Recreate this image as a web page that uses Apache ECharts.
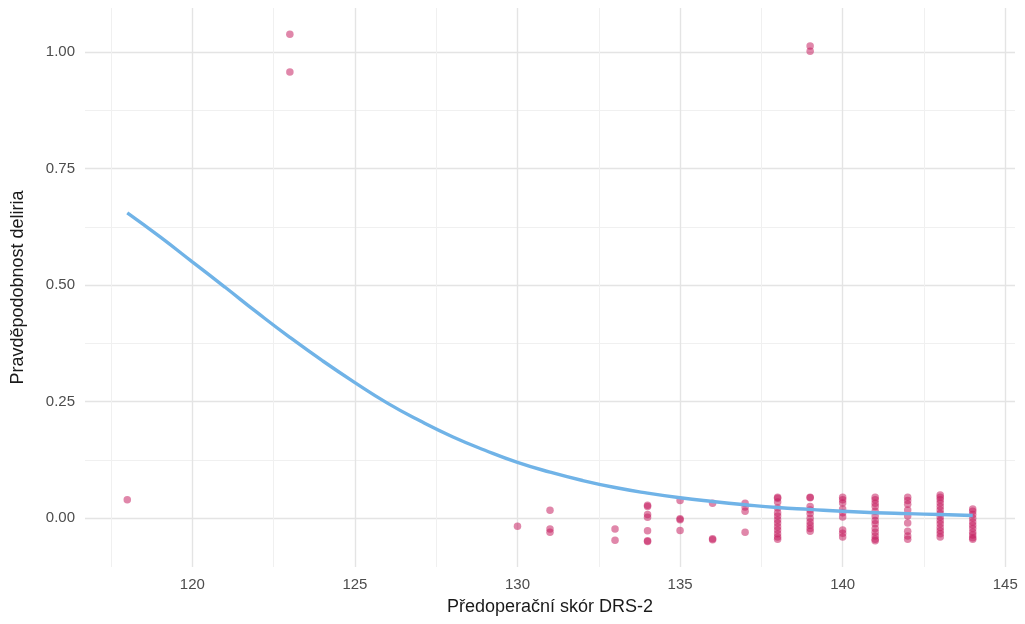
<!DOCTYPE html>
<html>
<head>
<meta charset="utf-8">
<script src="https://cdn.jsdelivr.net/npm/echarts@6/dist/echarts.min.js"></script>
<style>
  html, body { margin: 0; padding: 0; background: #fff; }
  #chart { width: 1025px; height: 624px; }
</style>
</head>
<body>
<div id="chart"></div>
<script>
/* Observed patients: DRS-2 score and delirium (0/1, vertically jittered) */
const pointX = [
  118, 123, 123, 130, 131, 131, 131, 133, 133,
  134, 134, 134, 134, 134, 134, 134,
  135, 135, 135, 135, 136, 136, 136, 137, 137, 137, 137,
  138, 138, 138, 138, 138, 138, 138, 138, 138, 138, 138, 138, 138,
  139, 139, 139, 139, 139, 139, 139, 139, 139, 139, 139, 139,
  140, 140, 140, 140, 140, 140, 140, 140, 140,
  141, 141, 141, 141, 141, 141, 141, 141, 141, 141, 141, 141, 141,
  142, 142, 142, 142, 142, 142, 142, 142, 142,
  143, 143, 143, 143, 143, 143, 143, 143, 143, 143, 143, 143, 143, 143,
  144, 144, 144, 144, 144, 144, 144, 144, 144, 144, 144
]
const pointY = [
  0.040, 1.038, 0.957, -0.017, 0.017, -0.023, -0.030, -0.023, -0.047,
  0.028, 0.025, 0.008, 0.002, -0.027, -0.048, -0.050,
  0.038, -0.001, -0.003, -0.026, 0.032, -0.044, -0.046, 0.032, 0.024, 0.015, -0.030,
  0.045, 0.043, 0.035, 0.022, 0.012, 0.005, -0.003, -0.010, -0.018, -0.025, -0.033, -0.040, -0.045,
  1.013, 1.002, 0.045, 0.044, 0.025, 0.018, 0.010, 0.000, -0.008, -0.015, -0.022, -0.028,
  0.045, 0.040, 0.033, 0.020, 0.012, 0.003, -0.025, -0.032, -0.040,
  0.045, 0.040, 0.032, 0.025, 0.015, 0.005, -0.005, -0.012, -0.022, -0.030, -0.038, -0.045, -0.048,
  0.045, 0.038, 0.030, 0.018, 0.005, -0.010, -0.028, -0.038, -0.045,
  0.050, 0.045, 0.040, 0.033, 0.025, 0.018, 0.010, 0.003, -0.005, -0.012, -0.020, -0.027, -0.033, -0.040,
  0.020, 0.015, 0.008, 0.000, -0.008, -0.015, -0.022, -0.030, -0.036, -0.042, -0.045
]

/* Fitted probability curve at each score */
const curveX = [118, 119, 120, 121, 122, 123, 124, 125, 126, 127, 128, 129, 130, 131,
  132, 133, 134, 135, 136, 137, 138, 139, 140, 141, 142, 143, 144]
const curveY = [0.655, 0.604, 0.550, 0.496, 0.441, 0.388, 0.338, 0.291, 0.247, 0.209, 0.175,
  0.146, 0.120, 0.099, 0.081, 0.066, 0.054, 0.044, 0.036, 0.029, 0.023, 0.019, 0.015,
  0.012, 0.010, 0.008, 0.006]

/* Tick / grid positions */
const xMajor = [120, 125, 130, 135, 140, 145]
const xMinor = [117.5, 122.5, 127.5, 132.5, 137.5, 142.5]
const yMajor = [0, 0.25, 0.5, 0.75, 1]
const yMinor = [0.125, 0.375, 0.625, 0.875]

const FONT = 'Liberation Sans, Arial, Helvetica, sans-serif'
const X_RANGE = [116.7, 145.3]
const Y_RANGE = [-0.1045, 1.0945]

const chart = echarts.init(document.getElementById('chart'))

/* helper: a value axis that only draws grid lines at the given values */
function gridAxis (vals, range, color, width, pos) {
  return {
    type: 'value', min: range[0], max: range[1], position: pos,
    axisLine: { show: false },
    axisTick: { show: false, customValues: vals },
    axisLabel: { show: false, customValues: vals },
    splitLine: { show: true, lineStyle: { color: color, width: width } }
  }
}

chart.setOption({
  animation: false,
  grid: { left: 85, right: 10, top: 8, bottom: 57, outerBoundsMode: 'none' },
  xAxis: [
    gridAxis(xMinor, X_RANGE, '#f0f0f0', 1, 'bottom'),
    Object.assign(gridAxis(xMajor, X_RANGE, '#e4e4e4', 1.4, 'bottom'), {
      axisLabel: { show: true, customValues: xMajor, margin: 10, color: '#4d4d4d', fontSize: 15, fontFamily: FONT },
      name: 'Předoperační skór DRS-2',
      nameLocation: 'middle',
      nameGap: 31,
      nameTextStyle: { color: '#1a1a1a', fontSize: 18, fontFamily: FONT }
    })
  ],
  yAxis: [
    gridAxis(yMinor, Y_RANGE, '#f0f0f0', 1, 'left'),
    Object.assign(gridAxis(yMajor, Y_RANGE, '#e4e4e4', 1.4, 'left'), {
      axisLabel: {
        show: true, customValues: yMajor, margin: 10, color: '#4d4d4d', fontSize: 15, fontFamily: FONT,
        formatter: v => v.toFixed(2)
      },
      name: 'Pravděpodobnost deliria',
      nameLocation: 'middle',
      nameGap: 58,
      nameTextStyle: { color: '#1a1a1a', fontSize: 18, fontFamily: FONT }
    })
  ],
  series: [
    {
      type: 'scatter',
      xAxisIndex: 1, yAxisIndex: 1,
      symbolSize: 7.5,
      itemStyle: { color: 'rgba(196, 26, 94, 0.66)' },
      data: pointX.map((x, i) => [x, pointY[i]]),
      z: 2
    },
    {
      type: 'line',
      xAxisIndex: 1, yAxisIndex: 1,
      smooth: true,
      showSymbol: false,
      lineStyle: { color: '#70b3e7', width: 3.4 },
      data: curveX.map((x, i) => [x, curveY[i]]),
      z: 3
    }
  ]
})
</script>
</body>
</html>
